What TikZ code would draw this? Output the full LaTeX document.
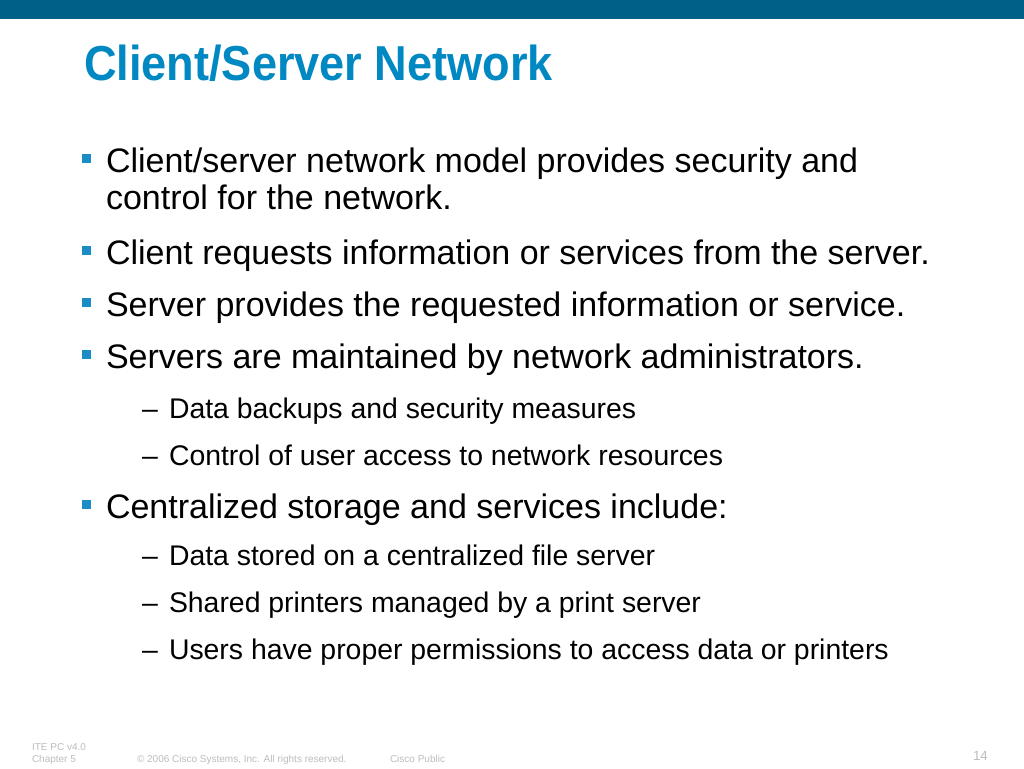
\documentclass[tikz,border=0pt]{standalone}
\usepackage{fontspec}
\setmainfont{Liberation Sans}
\newfontfamily\titlefont[FakeStretch=0.92]{Liberation Sans}
\definecolor{barblue}{HTML}{006088}
\definecolor{titleblue}{HTML}{0088C2}
\definecolor{bulletblue}{HTML}{1A8CC6}
\definecolor{footgray}{HTML}{BDBDBD}
\begin{document}
\begin{tikzpicture}[x=0.75pt,y=-0.75pt,
  txt/.style={anchor=base west,inner sep=0pt,outer sep=0pt},
  main/.style={txt,font=\fontsize{25.5}{30}\selectfont},
  sub/.style={txt,font=\fontsize{21.3}{25}\selectfont},
  foot/.style={txt,text=footgray,font=\fontsize{7.5}{9}\selectfont},
  bsq/.style={fill=bulletblue,draw=none,minimum size=6.75pt,inner sep=0pt,anchor=north west}]
\useasboundingbox (0,0) rectangle (1024,768);
\fill[white] (0,0) rectangle (1024,768);
\fill[barblue] (0,0) rectangle (1024,19);
\node[txt,text=titleblue,font=\fontsize{36.8}{44}\titlefont\bfseries] (title) at (84,80) {Client/Server Network};
% bullets
\node[bsq] (b1) at (82,154) {};
\node[main] (t1a) at (106,172) {Client/server network model provides security and};
\node[main] (t1b) at (106,209) {control for the network.};
\node[bsq] (b2) at (82,246) {};
\node[main] (t2) at (106,264) {Client requests information or services from the server.};
\node[bsq] (b3) at (82,298) {};
\node[main] (t3) at (106,316) {Server provides the requested information or service.};
\node[bsq] (b4) at (82,350) {};
\node[main] (t4) at (106,368) {Servers are maintained by network administrators.};
\node[sub] (d1) at (142,418) {–};
\node[sub] (s1) at (169,418) {Data backups and security measures};
\node[sub] (d2) at (142,465) {–};
\node[sub] (s2) at (169,465) {Control of user access to network resources};
\node[bsq] (b5) at (82,500) {};
\node[main] (t5) at (106,518) {Centralized storage and services include:};
\node[sub] (d3) at (142,565) {–};
\node[sub] (s3) at (169,565) {Data stored on a centralized file server};
\node[sub] (d4) at (142,612) {–};
\node[sub] (s4) at (169,612) {Shared printers managed by a print server};
\node[sub] (d5) at (142,659) {–};
\node[sub] (s5) at (169,659) {Users have proper permissions to access data or printers};
% footer
\node[foot] (f1) at (32,750) {ITE PC v4.0};
\node[foot] (f2) at (32,762) {Chapter 5};
\node[foot] (f3) at (137,762) {© 2006 Cisco Systems, Inc. All rights reserved.};
\node[foot] (f4) at (390,762) {Cisco Public};
\node[txt,text=footgray,font=\fontsize{10}{12}\selectfont] (pg) at (973,760) {14};
\end{tikzpicture}
\end{document}
